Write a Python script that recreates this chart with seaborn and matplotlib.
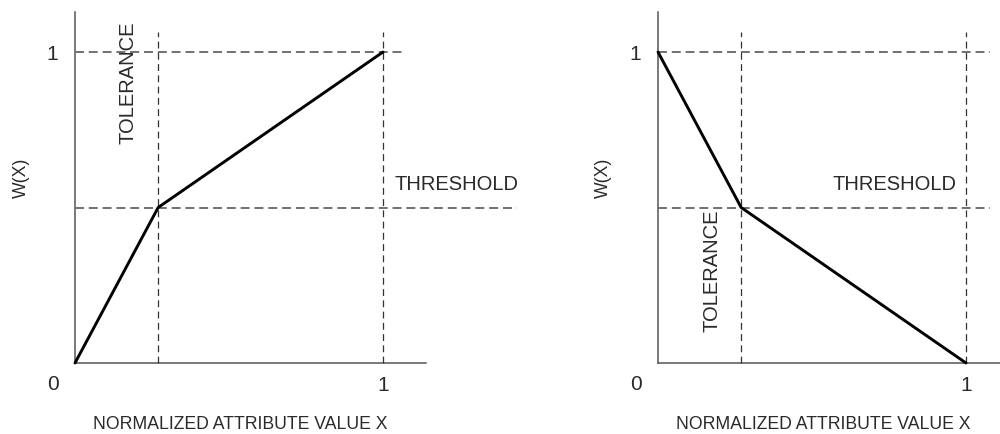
import matplotlib
matplotlib.use("Agg")
import matplotlib.pyplot as plt
import seaborn as sns
import pandas as pd

# ---- data ----
x_nodes = [0.0, 0.27, 1.0]
w_increasing = [0.0, 0.5, 1.0]
w_decreasing = [1.0, 0.5, 0.0]
tolerance = 0.27
threshold = 0.5
x_tick_labels = ["1"]
y_tick_labels = ["1"]
origin_label = "0"
x_label = "NORMALIZED ATTRIBUTE VALUE X"
y_label = "W(X)"
threshold_label = "THRESHOLD"
tolerance_label = "TOLERANCE"

sns.set_theme(style="white")
plt.rcParams['font.family'] = ['Liberation Sans', 'DejaVu Sans']

W, H = 1000, 435
fig = plt.figure(figsize=(10, 4.35), dpi=100)

TXT = "#2a2a2a"
AXC = "#555555"
HDASH = "#707070"
VDASH = "#333333"


def make_panel(left_px, xmax, curve, xspine_end, hdash_ends, vdash_top,
               thr_xy, tol_xy, ylabel_x, xlabel_x):
    bottom_px, top_px = 364, 13
    scale_x, scale_y = 308.0, 311.0
    ymax = (bottom_px - top_px) / scale_y
    width_px = xmax * scale_x
    ax = fig.add_axes([left_px / W, (H - bottom_px) / H, width_px / W,
                       (bottom_px - top_px) / H])
    ax.set_xlim(0, xmax)
    ax.set_ylim(0, ymax)
    df = pd.DataFrame({"x": x_nodes, "w": curve})
    sns.lineplot(data=df, x="x", y="w", ax=ax, color="black", lw=2.1,
                 sort=False, clip_on=False, zorder=5, estimator=None)
    # horizontal dashed reference lines
    ax.plot([0, hdash_ends[0]], [1, 1], ls=(0, (4.6, 2.5)), color=HDASH,
            lw=1.4, clip_on=False, zorder=3)
    ax.plot([0, hdash_ends[1]], [threshold, threshold], ls=(0, (4.6, 2.5)),
            color=HDASH, lw=1.4, clip_on=False, zorder=3)
    # vertical dashed reference lines
    for xv in (tolerance, 1.0):
        ax.plot([xv, xv], [0, vdash_top], ls=(0, (5.5, 3.5)), color=VDASH,
                lw=0.9, clip_on=False, zorder=3)
    for s in ("top", "right"):
        ax.spines[s].set_visible(False)
    for s in ("left", "bottom"):
        ax.spines[s].set_color(AXC)
        ax.spines[s].set_linewidth(1.1)
    ax.spines["bottom"].set_bounds(0, xspine_end)
    ax.set_xticks([1.0])
    ax.set_xticklabels(x_tick_labels)
    ax.set_yticks([1.0])
    ax.set_yticklabels(y_tick_labels)
    ax.tick_params(axis="both", length=0, labelsize=15, colors=TXT)
    ax.tick_params(axis="x", pad=8.5)
    ax.tick_params(axis="y", pad=12)
    ax.annotate(origin_label, xy=(0, 0), xytext=(-15.5, -14.5),
                textcoords="offset points", ha="center", va="center",
                fontsize=15, color=TXT)
    ax.text(thr_xy[0], thr_xy[1], threshold_label, ha="left", va="center",
            fontsize=14.5, color=TXT)
    ax.text(tol_xy[0], tol_xy[1], tolerance_label, ha="center", va="center",
            rotation=90, fontsize=14.5, color=TXT)
    ax.set_xlabel(x_label, fontsize=12.7, color=TXT)
    ax.set_ylabel(y_label, fontsize=12.7, color=TXT)
    ax.xaxis.label.set_va("center")
    ax.yaxis.label.set_va("center")
    ax.xaxis.set_label_coords((xlabel_x - left_px) / width_px,
                              (bottom_px - 425) / (bottom_px - top_px))
    ax.yaxis.set_label_coords((ylabel_x - left_px) / width_px,
                              (bottom_px - 177.5) / (bottom_px - top_px))
    ax.patch.set_alpha(0)
    return ax


make_panel(75, 1.45, w_increasing, 1.14, (1.07, 1.435), 1.064,
           (1.036, 0.576), (0.172, 0.903), 21, 240)
make_panel(658, 342 / 308.0, w_decreasing, 342 / 308.0, (1.078, 1.078), 1.064,
           (0.565, 0.576), (0.175, 0.299), 603, 823)

fig.savefig("out.png", dpi=100)
